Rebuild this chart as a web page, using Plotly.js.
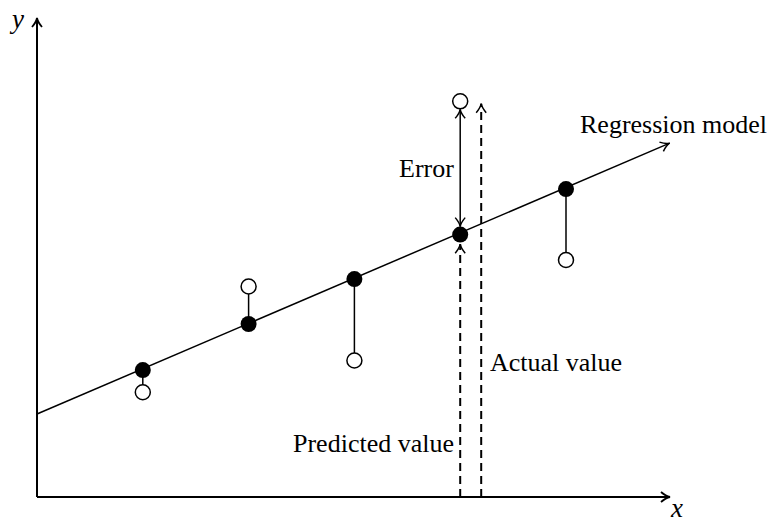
<!DOCTYPE html>
<html>
<head>
<meta charset="utf-8">
<script src="https://cdn.plot.ly/plotly-3.0.1.min.js"></script>
<style>html,body{margin:0;padding:0;background:#fff;}#chart{width:768px;height:522px;}</style>
</head>
<body>
<div id="chart"></div>
<script>
// ---- data (conceptual units) ----
const xs = [1, 2, 3, 4, 5];
const predicted = [1.20, 1.635, 2.06, 2.48, 2.91];
const actual = [0.99, 1.99, 1.29, 3.74, 2.24];
const regIntercept = 0.785;
const regSlope = 0.428;
const regXEnd = 5.98;
const errorIndex = 3;
const labels = {model: "Regression model", error: "Error", actual: "Actual value", predicted: "Predicted value"};

// ---- layout geometry ----
const U = 105.8; // px per unit (both axes)
const W = 768, H = 522, ox = 37, oy = 497;
const xr = [-ox / U, (W - ox) / U];
const yr = [-(H - oy) / U, oy / U];
const xAxisEnd = (670 - ox) / U, yAxisEnd = (oy - 18) / U;

function chevron(tx, ty, ang, color, width) {
  const L = 9 / U, Wd = 5 / U;
  const dx = Math.cos(ang), dy = Math.sin(ang);
  const nx = -dy, ny = dx;
  const bx = tx - L * dx, by = ty - L * dy;
  const p1 = [bx + Wd * nx, by + Wd * ny], p2 = [bx - Wd * nx, by - Wd * ny];
  const c1 = [tx - 0.45 * L * dx + 0.15 * Wd * nx, ty - 0.45 * L * dy + 0.15 * Wd * ny];
  const c2 = [tx - 0.45 * L * dx - 0.15 * Wd * nx, ty - 0.45 * L * dy - 0.15 * Wd * ny];
  return {type: 'path', xref: 'x', yref: 'y',
    path: `M ${p1[0]} ${p1[1]} Q ${c1[0]} ${c1[1]} ${tx} ${ty} Q ${c2[0]} ${c2[1]} ${p2[0]} ${p2[1]}`,
    line: {color: color || 'black', width: width || 1.5}};
}
function seg(x0, y0, x1, y1, width, dash, layer) {
  return {type: 'line', xref: 'x', yref: 'y', x0, y0, x1, y1, layer: layer || 'above',
    line: {color: 'black', width, dash: dash || 'solid'}};
}

const ex = xs[errorIndex], ep = predicted[errorIndex], ea = actual[errorIndex];
const gap = 8 / U; // marker radius gap
const actualX = ex + 21 / U;

const shapes = [
  seg(0, 0, 0, yAxisEnd, 2), seg(0, 0, xAxisEnd, 0, 2),
  chevron(0, yAxisEnd, Math.PI / 2, 'black', 1.8),
  chevron(xAxisEnd, 0, 0, 'black', 1.8),
  seg(0, regIntercept, regXEnd, regIntercept + regSlope * regXEnd, 1.5, null, 'below'),
  chevron(regXEnd, regIntercept + regSlope * regXEnd, Math.atan(regSlope)),
  // error double arrow
  seg(ex, ep + gap, ex, ea - gap, 1.5),
  chevron(ex, ep + gap, -Math.PI / 2), chevron(ex, ea - gap, Math.PI / 2),
  // predicted dashed
  seg(ex, 0, ex, ep - 1.2 * gap, 2, '8px,5px'),
  chevron(ex, ep - 1.2 * gap, Math.PI / 2),
  // actual dashed
  seg(actualX, 0, actualX, ea - 0.3 * gap, 2, '8px,5px'),
  chevron(actualX, ea - 0.3 * gap, Math.PI / 2),
];
xs.forEach((x, i) => {
  if (i !== errorIndex) shapes.push(seg(x, predicted[i], x, actual[i], 1.5, null, 'below'));
});

const traces = [
  {x: xs, y: actual, mode: 'markers', type: 'scatter', cliponaxis: false,
   marker: {size: 15, color: 'white', line: {color: 'black', width: 1.5}}, hoverinfo: 'skip'},
  {x: xs, y: predicted, mode: 'markers', type: 'scatter', cliponaxis: false,
   marker: {size: 16, color: 'black'}, hoverinfo: 'skip'}
];

const SERIF = '"Liberation Serif", "Times New Roman", Times, serif';
const font = {family: SERIF, size: 26, color: 'black'};
const mathFont = {family: SERIF, size: 27, color: 'black', style: 'italic'};
const annotations = [
  {x: (578 - ox) / U, y: (oy - 124) / U, text: labels.model, xanchor: 'left', yanchor: 'middle'},
  {x: (397 - ox) / U, y: (oy - 168) / U, text: labels.error, xanchor: 'left', yanchor: 'middle'},
  {x: (488 - ox) / U, y: (oy - 362) / U, text: labels.actual, xanchor: 'left', yanchor: 'middle'},
  {x: (456 - ox) / U, y: (oy - 443) / U, text: labels.predicted, xanchor: 'right', yanchor: 'middle'},
  {x: (16 - ox) / U, y: (oy - 19) / U, text: 'y', xanchor: 'center', yanchor: 'middle', font: mathFont},
  {x: (676 - ox) / U, y: (oy - 508) / U, text: 'x', xanchor: 'center', yanchor: 'middle', font: mathFont}
].map(a => Object.assign({xref: 'x', yref: 'y', showarrow: false, font}, a));

const layout = {
  width: W, height: H, margin: {l: 0, r: 0, t: 0, b: 0, pad: 0},
  font: font,
  paper_bgcolor: 'white', plot_bgcolor: 'white', showlegend: false,
  xaxis: {range: xr, visible: false, fixedrange: true},
  yaxis: {range: yr, visible: false, fixedrange: true},
  shapes, annotations
};
Plotly.newPlot('chart', traces, layout, {staticPlot: true, displayModeBar: false});
</script>
</body>
</html>
